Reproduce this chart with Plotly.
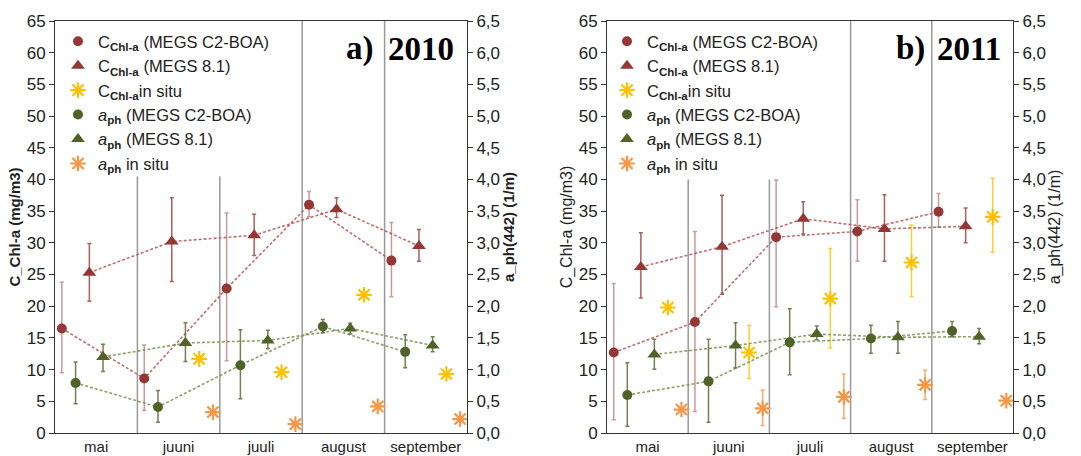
import plotly.graph_objects as go

months = ["mai", "juuni", "juuli", "august", "september"]

# ---- 2010 (values; upper and lower error bounds) ----
chl_c2_2010 = [16.5, 8.6, 22.8, 36.0, 27.2]
chl_c2_2010_hi = [23.8, 13.9, 34.7, 38.1, 33.2]
chl_c2_2010_lo = [9.5, 3.6, 11.4, 34.1, 21.5]

chl_81_2010 = [25.3, 30.2, 31.2, 35.3, 29.5]
chl_81_2010_hi = [29.9, 37.1, 34.5, 37.1, 32.1]
chl_81_2010_lo = [20.8, 23.9, 28.0, 34.0, 27.1]

chl_is_2010 = [None, 11.7, 9.6, 21.8, 9.3]

aph_c2_2010 = [0.79, 0.41, 1.07, 1.68, 1.28]
aph_c2_2010_hi = [1.12, 0.67, 1.63, 1.79, 1.55]
aph_c2_2010_lo = [0.46, 0.17, 0.54, 1.58, 1.03]

aph_81_2010 = [1.20, 1.42, 1.46, 1.65, 1.38]
aph_81_2010_hi = [1.40, 1.74, 1.62, 1.73, 1.52]
aph_81_2010_lo = [0.97, 1.13, 1.33, 1.56, 1.28]

aph_is_2010 = [None, 0.33, 0.14, 0.42, 0.22]

# ---- 2011 ----
chl_c2_2011 = [12.7, 17.5, 30.9, 31.8, 34.9]
chl_c2_2011_hi = [23.6, 31.8, 39.9, 36.8, 37.8]
chl_c2_2011_lo = [2.1, 3.4, 19.9, 27.1, 32.5]

chl_81_2011 = [26.2, 29.4, 33.8, 32.2, 32.6]
chl_81_2011_hi = [31.6, 37.5, 36.5, 37.6, 35.5]
chl_81_2011_lo = [21.3, 21.9, 31.4, 27.1, 30.0]

chl_is_2011 = [19.8, 12.7, 21.2, 26.9, 34.1]
chl_is_2011_hi = [19.8, 17.0, 29.1, 32.8, 40.2]
chl_is_2011_lo = [19.8, 8.6, 13.4, 21.5, 28.5]

aph_c2_2011 = [0.60, 0.815, 1.43, 1.49, 1.61]
aph_c2_2011_hi = [1.11, 1.48, 1.96, 1.70, 1.76]
aph_c2_2011_lo = [0.106, 0.17, 0.92, 1.26, 1.52]

aph_81_2011 = [1.24, 1.38, 1.56, 1.51, 1.52]
aph_81_2011_hi = [1.48, 1.74, 1.69, 1.76, 1.65]
aph_81_2011_lo = [1.005, 1.03, 1.47, 1.26, 1.41]

aph_is_2011 = [0.37, 0.39, 0.57, 0.76, 0.51]
aph_is_2011_hi = [0.37, 0.68, 0.93, 0.99, 0.51]
aph_is_2011_lo = [0.37, 0.12, 0.23, 0.53, 0.51]

RED = "#953735"
RED_LINE = "rgba(185,85,85,0.85)"
RED_ERR = "rgba(160,70,70,0.55)"
GREEN = "#4f6228"
GREEN_LINE = "rgba(120,145,80,0.85)"
YELLOW = "#ffc000"
ORANGE = "#f79646"
FONT = "Liberation Sans, Arial, sans-serif"

offsets = [-0.417, -0.25, -0.083, 0.083, 0.25, 0.417]


def xs(k, vals):
    return [i + offsets[k] for i in range(len(vals))]


def err(vals, hi, lo, color, width=1.5):
    if hi is None:
        return None
    return dict(type="data", symmetric=False,
                array=[None if v is None else h - v for v, h in zip(vals, hi)],
                arrayminus=[None if v is None else v - l for v, l in zip(vals, lo)],
                color=color, thickness=width, width=2)


fig = go.Figure()


def add_panel(xa, ya, ya2, leg, data):
    (c2, c2h, c2l, m81, m81h, m81l, cis, cish, cisl,
     a2, a2h, a2l, a81, a81h, a81l, ais, aish, aisl) = data
    # connecting dashed lines
    for k, vals, yax, col in [(0, c2, ya, RED_LINE), (2, m81, ya, RED_LINE),
                              (1, a2, ya2, GREEN_LINE), (3, a81, ya2, GREEN_LINE)]:
        fig.add_trace(go.Scatter(x=xs(k, vals), y=vals, mode="lines", xaxis=xa, yaxis=yax,
                                 line=dict(color=col, width=1.6, dash="3px,2px"),
                                 showlegend=False, hoverinfo="skip"))
    series = [
        (0, c2, c2h, c2l, ya, "circle", RED, RED_ERR, 10,
         "C<sub><b>Chl-a</b></sub> (MEGS C2-BOA)"),
        (2, m81, m81h, m81l, ya, "triangle-up", RED, "rgba(150,55,53,0.8)", 12,
         "C<sub><b>Chl-a</b></sub> (MEGS 8.1)"),
        (4, cis, cish, cisl, ya, "asterisk-open", YELLOW, "rgba(255,192,0,0.8)", 13,
         "C<sub><b>Chl-a</b></sub>in situ"),
        (1, a2, a2h, a2l, ya2, "circle", GREEN, "rgba(79,98,40,0.8)", 10,
         "<i>a</i><sub><b>ph</b></sub> (MEGS C2-BOA)"),
        (3, a81, a81h, a81l, ya2, "triangle-up", GREEN, "rgba(79,98,40,0.8)", 12,
         "<i>a</i><sub><b>ph</b></sub> (MEGS 8.1)"),
        (5, ais, aish, aisl, ya2, "asterisk-open", ORANGE, "rgba(247,150,70,0.8)", 13,
         "<i>a</i><sub><b>ph</b></sub> in situ"),
    ]
    for k, vals, hi, lo, yax, sym, col, ecol, size, name in series:
        marker = dict(symbol=sym, color=col, size=size)
        if sym.startswith("asterisk"):
            marker["line"] = dict(color=col, width=2.2)
        fig.add_trace(go.Scatter(x=xs(k, vals), y=vals, mode="markers", xaxis=xa, yaxis=yax,
                                 marker=marker, error_y=err(vals, hi, lo, ecol),
                                 name=name, legend=leg))


add_panel("x", "y", "y2", "legend",
          (chl_c2_2010, chl_c2_2010_hi, chl_c2_2010_lo,
           chl_81_2010, chl_81_2010_hi, chl_81_2010_lo,
           chl_is_2010, None, None,
           aph_c2_2010, aph_c2_2010_hi, aph_c2_2010_lo,
           aph_81_2010, aph_81_2010_hi, aph_81_2010_lo,
           aph_is_2010, None, None))
add_panel("x2", "y3", "y4", "legend2",
          (chl_c2_2011, chl_c2_2011_hi, chl_c2_2011_lo,
           chl_81_2011, chl_81_2011_hi, chl_81_2011_lo,
           chl_is_2011, chl_is_2011_hi, chl_is_2011_lo,
           aph_c2_2011, aph_c2_2011_hi, aph_c2_2011_lo,
           aph_81_2011, aph_81_2011_hi, aph_81_2011_lo,
           aph_is_2011, aph_is_2011_hi, aph_is_2011_lo))

W, H = 1081, 456
ydom = [1 - 433 / H, 1 - 21 / H]
tickfont = dict(family=FONT, size=17, color="#222")

xcommon = dict(range=[-0.5, 4.5], tickvals=list(range(5)), ticktext=months,
               showline=True, mirror=True, linecolor="#333", linewidth=1,
               ticks="", automargin=False,
               showgrid=False, zeroline=False, tickfont=dict(family=FONT, size=15, color="#222"))
ycommon = dict(showline=True, linecolor="#333", linewidth=1, ticks="outside",
               ticklen=5, tickcolor="#333", showgrid=False, zeroline=False,
               tickfont=tickfont, automargin=False)

legfont = dict(family=FONT, size=16.5, color="#222")

fig.update_layout(
    width=W, height=H, margin=dict(l=0, r=0, t=0, b=0),
    plot_bgcolor="white", paper_bgcolor="white", separators=", ",
    font=dict(family=FONT, color="#222"),
    xaxis=dict(domain=[55 / W, 467 / W], anchor="y", **xcommon),
    yaxis=dict(domain=ydom, range=[0, 65], dtick=5, anchor="x",
               title=dict(text="<b>C_Chl-a (mg/m3)</b>", font=dict(size=15), standoff=2),
               **ycommon),
    yaxis2=dict(range=[0, 6.5], dtick=0.5, tickformat=".1f", overlaying="y", side="right",
                anchor="x", title=dict(text="<b>a_ph(442) (1/m)</b>", font=dict(size=15), standoff=2),
                **ycommon),
    xaxis2=dict(domain=[607 / W, 1013 / W], anchor="y3", **xcommon),
    yaxis3=dict(domain=ydom, range=[0, 65], dtick=5, anchor="x2",
                title=dict(text="C_Chl-a (mg/m3)", font=dict(size=16), standoff=2),
                **ycommon),
    yaxis4=dict(range=[0, 6.5], dtick=0.5, tickformat=".1f", overlaying="y3", side="right",
                anchor="x2", title=dict(text="a_ph(442) (1/m)", font=dict(size=16), standoff=2),
                **ycommon),
    legend=dict(x=58 / W, y=1 - 24 / H, xanchor="left", yanchor="top",
                bgcolor="rgba(0,0,0,0)", font=legfont, itemwidth=30, tracegroupgap=0),
    legend2=dict(x=607 / W, y=1 - 24 / H, xanchor="left", yanchor="top",
                 bgcolor="rgba(0,0,0,0)", font=legfont, itemwidth=30, tracegroupgap=0),
)

# month separators
for xa, ya, tops in [("x", "y", [40.5, 40.5, 65, 65]), ("x2", "y3", [40, 40, 65, 65])]:
    for i, top in enumerate(tops):
        fig.add_shape(type="line", xref=xa, yref=ya, x0=i + 0.5, x1=i + 0.5, y0=0, y1=top,
                      line=dict(color="#999", width=1.5), layer="below")

serif = dict(family="Liberation Serif, Times New Roman, serif", size=33, color="black")
for txt, xc in [("<b>a)</b>", 360), ("<b>2010</b>", 421), ("<b>b)</b>", 910), ("<b>2011</b>", 969)]:
    fig.add_annotation(text=txt, xref="paper", yref="paper", x=xc / W, y=1 - 49 / H,
                       xanchor="center", yanchor="middle", showarrow=False, font=serif)

fig.write_html("out.html")
